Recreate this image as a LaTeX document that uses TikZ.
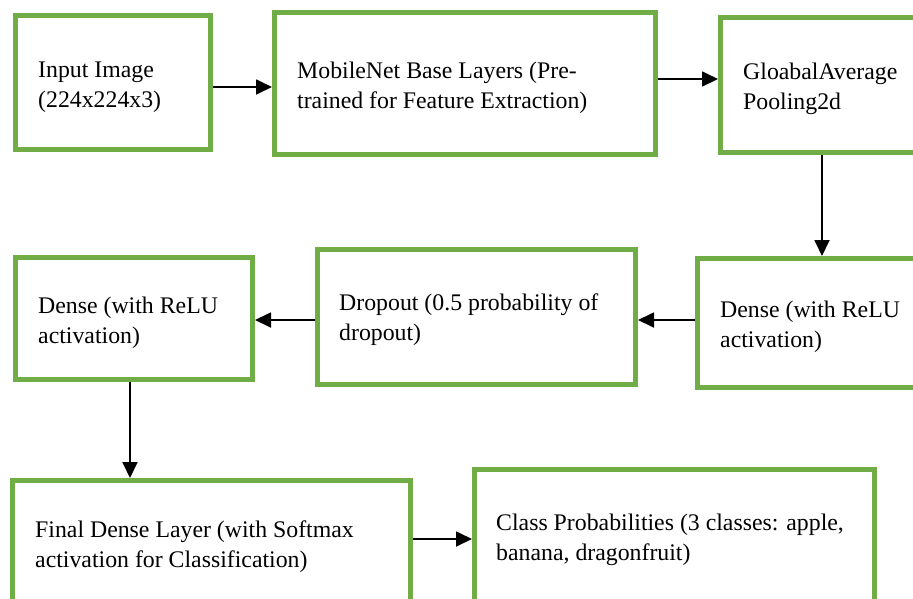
\documentclass[tikz,border=0pt]{standalone}
\usepackage{fontspec}
\setmainfont{Liberation Serif}
\usetikzlibrary{arrows.meta}

\definecolor{boxgreen}{HTML}{70AD47}

\tikzset{
  layerbox/.style={draw=boxgreen, line width=5pt, fill=white, inner sep=0pt,
    minimum width=#1},
  % anchored on the baseline of the last line of the label
  layertext/.style={anchor=base west, align=left, inner sep=0pt,
    font=\fontsize{23.8}{30}\selectfont},
  flow/.style={line width=1.8pt, -{Triangle[length=16pt,width=15pt]}}
}

\begin{document}
\begin{tikzpicture}[x=1pt, y=-1pt]
  \useasboundingbox (0,0) rectangle (913,598);
  \clip (0,0) rectangle (913,598);

  % layer boxes (centres and sizes measured on the stroke centre line)
  \node[layerbox=195pt, minimum height=134pt] (b1) at (113,82.5) {};
  \node[layerbox=381pt, minimum height=142pt] (b2) at (465,83.5) {};
  \node[layerbox=207pt, minimum height=135pt] (b3) at (824,85) {};
  \node[layerbox=232.5pt, minimum height=129pt] (b4) at (813.75,323) {};
  \node[layerbox=318pt, minimum height=135pt] (b5) at (476.5,317) {};
  \node[layerbox=237pt, minimum height=122pt] (b6) at (134,318.5) {};
  \node[layerbox=398pt, minimum height=139.5pt] (b7) at (211.5,550.25) {};
  \node[layerbox=400pt, minimum height=150.5pt] (b8) at (674.5,544.75) {};

  % labels
  \node[layertext] (t1) at (38,107) {Input Image\\(224x224x3)};
  \node[layertext] (t2) at (297,108) {MobileNet Base Layers (Pre-\\trained for Feature Extraction)};
  \node[layertext] (t3) at (743,109) {GloabalAverage\\Pooling2d};
  \node[layertext] (t4) at (720,347) {Dense (with ReLU\\activation)};
  \node[layertext] (t5) at (339,340) {Dropout (0.5 probability of\\dropout)};
  \node[layertext] (t6) at (38,343) {Dense (with ReLU\\activation)};
  \node[layertext] (t7) at (35,567) {Final Dense Layer (with Softmax\\activation for Classification)};
  \node[layertext] (t8) at (496,560) {Class Probabilities (3 classes: apple,\\banana, dragonfruit)};

  % data flow
  \draw[flow] ([yshift=-4.5pt]b1.east) -- ([yshift=-4.5pt]b1.east -| b2.west);
  \draw[flow] ([yshift=4.5pt]b2.east) -- ([yshift=4.5pt]b2.east -| b3.west);
  \draw[flow] ([xshift=-2pt]b3.south) -- ([xshift=-2pt]b3.south |- b4.north);
  \draw[flow] ([yshift=3pt]b4.west) -- ([yshift=3pt]b4.west -| b5.east);
  \draw[flow] ([yshift=-3pt]b5.west) -- ([yshift=-3pt]b5.west -| b6.east);
  \draw[flow] ([xshift=-4pt]b6.south) -- ([xshift=-4pt]b6.south |- b7.north);
  \draw[flow] ([yshift=11.25pt]b7.east) -- ([yshift=11.25pt]b7.east -| b8.west);
\end{tikzpicture}
\end{document}
